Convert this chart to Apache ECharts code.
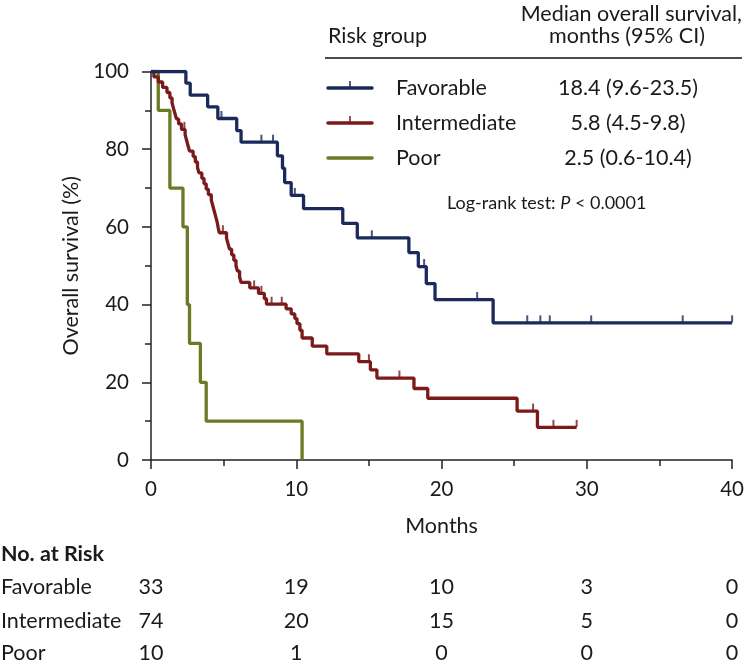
<!DOCTYPE html>
<html><head><meta charset="utf-8">
<script src="https://cdn.jsdelivr.net/npm/echarts@6/dist/echarts.min.js"></script>
<style>html,body{margin:0;padding:0;background:#fff}#c{width:747px;height:668px}</style>
</head><body><div id="c"></div>
<script>
// ---- data ----
const groups = ['Favorable', 'Intermediate', 'Poor'];
const medians = ['18.4 (9.6-23.5)', '5.8 (4.5-9.8)', '2.5 (0.6-10.4)'];
const colors = ['#1b2a5b', '#7a1a1a', '#6c7a24'];

const favorableSteps = [[0,100],[2.4,97.0],[2.7,93.9],[3.9,90.9],[4.6,87.9],[5.9,84.8],[6.2,81.8],[8.7,78.3],[9.05,75.1],[9.2,71.4],[9.65,68.1],[10.5,64.7],[13.2,60.9],[14.2,57.2],[17.75,53.4],[18.4,49.8],[18.95,45.4],[19.55,41.3],[23.55,35.3],[40,35.3]];
const favorableCensor = [4.85, 7.6, 8.4, 9.9, 15.2, 18.8, 22.45, 25.9, 26.8, 27.45, 30.3, 36.6, 40];

const intermediateSteps = [[0,100],[0.2,98.6],[0.5,97.3],[0.8,95.9],[1.1,94.6],[1.3,93.2],[1.45,91.9],[1.55,90.5],[1.65,89.2],[1.75,87.8],[1.9,86.5],[2.1,85.1],[2.35,83.7],[2.45,82.3],[2.55,80.9],[2.65,79.5],[2.9,78.1],[3.05,76.7],[3.2,75.3],[3.3,73.9],[3.5,72.5],[3.65,71.1],[3.8,69.7],[3.95,68.3],[4.15,66.9],[4.25,65.5],[4.35,64.1],[4.45,62.7],[4.55,61.3],[4.62,59.9],[4.7,58.5],[5.2,57.1],[5.3,55.7],[5.4,54.3],[5.55,52.8],[5.7,51.4],[5.85,50.0],[5.95,48.6],[6.1,47.1],[6.2,45.7],[6.8,44.3],[7.4,42.9],[7.8,41.5],[7.95,40.1],[9.3,38.9],[9.65,37.6],[9.9,36.4],[10.05,35.1],[10.25,33.4],[10.4,31.4],[11.1,29.3],[12.1,27.3],[14.3,25.3],[15.1,23.2],[15.55,21.1],[18.1,18.4],[19.05,15.9],[25.2,12.6],[26.6,8.4],[29.3,8.4]];
const intermediateCensor = [2.3, 4.95, 7.1, 7.6, 8.3, 9.0, 15.0, 17.1, 26.3, 27.7, 29.3];

const poorSteps = [[0,100],[0.5,90],[1.3,70],[2.2,60],[2.5,40],[2.65,30],[3.4,20],[3.8,10],[10.4,10],[10.4,0]];

const xTicks = [0, 10, 20, 30, 40];
const riskFavorable = [33, 19, 10, 3, 0];
const riskIntermediate = [74, 20, 15, 5, 0];
const riskPoor = [10, 1, 0, 0, 0];

// ---- helpers ----
function survAt(steps, t) {
  let v = steps[0][1];
  for (const s of steps) { if (s[0] <= t) v = s[1]; }
  return v;
}
const FONT = 'Lato';
const TXT = '#1a1a1a';
const AX = '#222';
const FS = 21.5;

const chart = echarts.init(document.getElementById('c'), null, {renderer: 'canvas'});

function stepSeries(name, steps, color, z) {
  return {name, type: 'line', step: 'end', data: steps, symbol: 'none', z,
    lineStyle: {color, width: 3.3}, animation: false, silent: true};
}
function censorSeries(name, steps, times, color, z) {
  return {name: name + ' censored', type: 'scatter', z,
    data: times.map(t => [t, survAt(steps, t)]),
    symbol: 'rect', symbolSize: [2, 7], symbolOffset: [0, -4],
    itemStyle: {color}, animation: false, silent: true};
}

chart.setOption({
  animation: false,
  backgroundColor: '#fff',
  grid: {left: 151, right: 14, top: 71.5, bottom: 208, containLabel: false},
  xAxis: {
    type: 'value', min: 0, max: 40, interval: 10,
    name: 'Months', nameLocation: 'middle', nameGap: 55,
    nameTextStyle: {fontFamily: FONT, fontSize: FS, color: TXT},
    axisLine: {show: true, onZero: false, lineStyle: {color: AX, width: 1.5}},
    axisTick: {show: true, inside: false, length: 9, lineStyle: {color: AX, width: 1.5}},
    minorTick: {show: true, splitNumber: 2, length: 6, lineStyle: {color: AX, width: 1.5}},
    axisLabel: {fontFamily: FONT, fontSize: 20.5, color: TXT, margin: 19},
    splitLine: {show: false}
  },
  yAxis: {
    type: 'value', min: 0, max: 100, interval: 20,
    name: 'Overall survival (%)', nameLocation: 'middle', nameGap: 69,
    nameTextStyle: {fontFamily: FONT, fontSize: FS, color: TXT},
    axisLine: {show: true, onZero: false, lineStyle: {color: AX, width: 1.5}},
    axisTick: {show: true, inside: false, length: 9, lineStyle: {color: AX, width: 1.5}},
    minorTick: {show: true, splitNumber: 2, length: 6, lineStyle: {color: AX, width: 1.5}},
    axisLabel: {fontFamily: FONT, fontSize: 20.5, color: TXT, margin: 22},
    splitLine: {show: false}
  },
  series: [
    stepSeries(groups[2], poorSteps, colors[2], 2),
    stepSeries(groups[1], intermediateSteps, colors[1], 3),
    censorSeries(groups[1], intermediateSteps, intermediateCensor, colors[1], 3),
    stepSeries(groups[0], favorableSteps, colors[0], 4),
    censorSeries(groups[0], favorableSteps, favorableCensor, colors[0], 4)
  ]
});

// ---- legend table & risk table ----
const g = [];
const textStyle = (extra) => Object.assign({fontFamily: FONT, fontSize: FS, fill: TXT}, extra);
g.push({type: 'text', x: 742, y: 14, style: textStyle({text: 'Median overall survival,', align: 'right', verticalAlign: 'middle'})});
g.push({type: 'text', x: 627, y: 36, style: textStyle({text: 'months (95% CI)', align: 'center', verticalAlign: 'middle'})});
g.push({type: 'text', x: 328, y: 36, style: textStyle({text: 'Risk group', align: 'left', verticalAlign: 'middle'})});
g.push({type: 'line', shape: {x1: 325, y1: 58, x2: 742, y2: 58}, style: {stroke: '#111', lineWidth: 1.5}});
const rowY = [88, 123, 158];
groups.forEach((name, i) => {
  g.push({type: 'line', shape: {x1: 328, y1: rowY[i], x2: 372, y2: rowY[i]}, style: {stroke: colors[i], lineWidth: 3.5, lineCap: 'round'}});
  if (i < 2) g.push({type: 'line', shape: {x1: 350, y1: rowY[i] - 7, x2: 350, y2: rowY[i]}, style: {stroke: colors[i], lineWidth: 1.5}});
  g.push({type: 'text', x: 396, y: rowY[i], style: textStyle({text: name, align: 'left', verticalAlign: 'middle'})});
  g.push({type: 'text', x: 628, y: rowY[i], style: textStyle({text: medians[i], align: 'center', verticalAlign: 'middle'})});
});
g.push({type: 'text', x: 447, y: 203, style: {
  text: '{a|Log-rank test: }{b|P}{a| < 0.0001}', align: 'left', verticalAlign: 'middle',
  rich: {a: {fontFamily: FONT, fontSize: 18, fill: TXT}, b: {fontFamily: FONT, fontSize: 18, fontStyle: 'italic', fill: TXT}}
}});

g.push({type: 'text', x: 1, y: 554, style: textStyle({text: 'No. at Risk', fontWeight: 'bold', align: 'left', verticalAlign: 'middle'})});
const riskRows = [riskFavorable, riskIntermediate, riskPoor];
const riskY = [587, 621, 653];
riskRows.forEach((row, i) => {
  g.push({type: 'text', x: 1, y: riskY[i], style: textStyle({text: groups[i], align: 'left', verticalAlign: 'middle'})});
  row.forEach((n, j) => {
    const px = chart.convertToPixel({xAxisIndex: 0}, xTicks[j]);
    g.push({type: 'text', x: px, y: riskY[i], style: textStyle({text: String(n), align: 'center', verticalAlign: 'middle'})});
  });
});
chart.setOption({graphic: {elements: g}});
</script>
</body></html>
